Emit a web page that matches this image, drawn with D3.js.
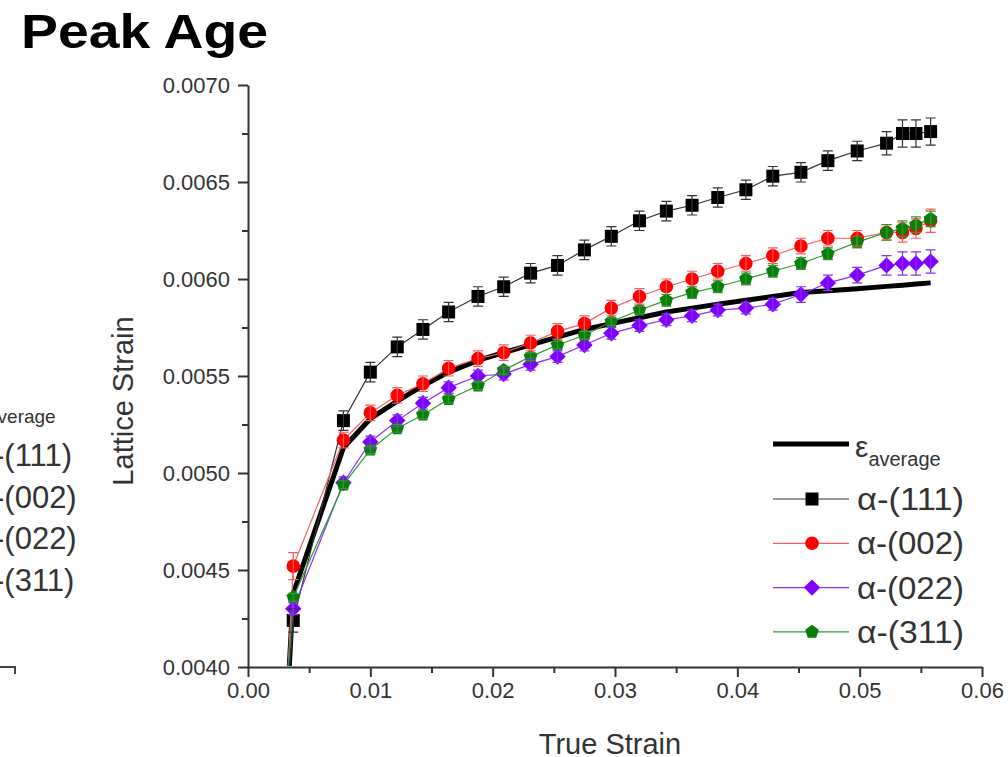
<!DOCTYPE html>
<html><head><meta charset="utf-8">
<script src="https://cdn.jsdelivr.net/npm/d3@7"></script>
<style>body{margin:0;background:#fff;}svg{display:block;font-family:"Liberation Sans",Arial,sans-serif;}</style>
</head><body>
<svg id="chart" width="1008" height="757"></svg>
<script>
// ---------- data ----------
const strain = [0.0032, 0.0037, 0.0078, 0.0100, 0.0122, 0.0143, 0.0164, 0.0188, 0.0209, 0.0231, 0.0253, 0.0275, 0.0297, 0.0320, 0.0342, 0.0363, 0.0384, 0.0407, 0.0429, 0.0452, 0.0474, 0.0498, 0.0522, 0.0535, 0.0546, 0.0558];
const avgStrain = [0.0038, 0.00438, 0.00513, 0.00528, 0.00537, 0.00545, 0.00552, 0.00558, 0.00562, 0.00566, 0.00570, 0.00574, 0.00577, 0.00580, 0.00583, 0.00585, 0.00587, 0.00589, 0.00591, 0.00593, 0.00594, 0.00595, 0.005962, 0.005968, 0.005974, 0.00598];
const a111 = [0.00382, 0.00424, 0.00527, 0.00552, 0.00565, 0.00574, 0.00583, 0.00591, 0.00596, 0.00603, 0.00607, 0.00615, 0.00622, 0.00630, 0.00635, 0.00638, 0.00642, 0.00646, 0.00653, 0.00655, 0.00661, 0.00666, 0.00670, 0.00675, 0.00675, 0.00676];
const a002 = [0.00389, 0.00452, 0.00517, 0.00531, 0.00540, 0.00546, 0.00554, 0.00559, 0.00562, 0.00567, 0.00573, 0.00577, 0.00585, 0.00591, 0.00596, 0.00600, 0.00604, 0.00608, 0.00612, 0.00617, 0.00621, 0.00621, 0.00624, 0.00624, 0.00626, 0.00630];
const a022 = [0.00394, 0.00430, 0.00495, 0.00516, 0.00527, 0.00536, 0.00544, 0.00550, 0.00551, 0.00556, 0.00560, 0.00566, 0.00572, 0.00576, 0.00579, 0.00581, 0.00584, 0.00585, 0.00587, 0.00592, 0.00598, 0.00602, 0.00607, 0.00608, 0.00608, 0.00609];
const a311 = [0.00393, 0.00436, 0.00494, 0.00512, 0.00523, 0.00530, 0.00538, 0.00545, 0.00553, 0.00560, 0.00566, 0.00571, 0.00578, 0.00584, 0.00589, 0.00593, 0.00596, 0.00600, 0.00604, 0.00608, 0.00613, 0.00619, 0.00624, 0.00626, 0.00628, 0.00631];
const e111 = [0.00005, 0.00006, 0.00005, 0.00005, 0.00005, 0.00005, 0.00005, 0.00005, 0.00005, 0.00005, 0.00005, 0.00005, 0.00005, 0.00005, 0.00005, 0.00005, 0.00005, 0.00005, 0.00005, 0.00005, 0.00005, 0.00005, 0.00006, 0.00007, 0.00007, 0.00007];
const e002 = [0.00007, 0.00007, 0.00004, 0.00004, 0.00004, 0.00004, 0.00004, 0.00004, 0.00004, 0.00004, 0.00004, 0.00004, 0.00004, 0.00004, 0.00004, 0.00004, 0.00004, 0.00004, 0.00004, 0.00004, 0.00004, 0.00004, 0.00004, 0.00005, 0.00005, 0.00006];
const e022 = [0.00003, 0.00003, 0.00003, 0.00003, 0.00003, 0.00003, 0.00003, 0.00003, 0.00003, 0.00003, 0.00003, 0.00003, 0.00003, 0.00003, 0.00003, 0.00003, 0.00003, 0.00003, 0.00003, 0.00004, 0.00004, 0.00004, 0.00005, 0.00006, 0.00006, 0.00006];
const e311 = [0.00002, 0.00002, 0.00002, 0.00002, 0.00002, 0.00002, 0.00002, 0.00002, 0.00002, 0.00002, 0.00002, 0.00002, 0.00002, 0.00002, 0.00003, 0.00003, 0.00003, 0.00003, 0.00003, 0.00003, 0.00003, 0.00003, 0.00004, 0.00004, 0.00004, 0.00004];
const seriesNames = ["α-(111)", "α-(002)", "α-(022)", "α-(311)"];
const xTicks = [0.00, 0.01, 0.02, 0.03, 0.04, 0.05, 0.06];
const xMinor = [0.005, 0.015, 0.025, 0.035, 0.045, 0.055];
const yTicks = [0.0040, 0.0045, 0.0050, 0.0055, 0.0060, 0.0065, 0.0070];
const yMinor = [0.00425, 0.00475, 0.00525, 0.00575, 0.00625, 0.00675];
const leftFragment = ["-(111)", "-(002)", "-(022)", "-(311)"];

// ---------- chart ----------
const svg = d3.select("#chart");
const x = d3.scaleLinear().domain([0, 0.06]).range([248, 982]);
const y = d3.scaleLinear().domain([0.0040, 0.0070]).range([667, 85]);
const axisColor = "#333";

// title
svg.append("text").attr("x", 21).attr("y", 48).attr("font-size", 48).attr("font-weight", "bold")
  .attr("textLength", 247).attr("lengthAdjust", "spacingAndGlyphs").attr("fill", "#000").text("Peak Age");

// left-neighbour fragment
svg.append("text").attr("x", -13).attr("y", 423).attr("font-size", 19).attr("fill", "#333").text("average");
leftFragment.forEach((t, i) => {
  svg.append("text").attr("x", -6).attr("y", [466, 508, 549, 591][i]).attr("font-size", 31).attr("fill", "#333").text(t);
});
svg.append("path").attr("d", "M0,667H15V674").attr("fill", "none").attr("stroke", "#444").attr("stroke-width", 2);

// axes
svg.append("g").attr("transform", "translate(0,667)")
  .call(d3.axisBottom(x).tickValues(xTicks).tickSize(10).tickSizeOuter(0).tickPadding(5).tickFormat(d3.format(".2f")));
svg.append("g").attr("transform", "translate(0,667)")
  .call(d3.axisBottom(x).tickValues(xMinor).tickSize(6).tickFormat("")).select(".domain").remove();
svg.append("g").attr("transform", "translate(248,0)")
  .call(d3.axisLeft(y).tickValues(yTicks).tickSize(10).tickSizeOuter(0).tickPadding(8).tickFormat(d3.format(".4f")));
svg.append("g").attr("transform", "translate(248,0)")
  .call(d3.axisLeft(y).tickValues(yMinor).tickSize(6).tickFormat("")).select(".domain").remove();
svg.selectAll(".domain").attr("stroke", axisColor).attr("stroke-width", 2);
svg.selectAll(".tick line").attr("stroke", axisColor).attr("stroke-width", 2);
svg.selectAll(".tick text").attr("font-size", 22).attr("fill", "#333").attr("font-family", "Liberation Sans, Arial, sans-serif");

svg.append("text").attr("x", 610).attr("y", 754).attr("text-anchor", "middle").attr("font-size", 29).attr("fill", "#333").text("True Strain");
svg.append("text").attr("transform", "translate(133,401) rotate(-90)").attr("text-anchor", "middle").attr("font-size", 29).attr("fill", "#333").text("Lattice Strain");

// clip
svg.append("clipPath").attr("id", "clip").append("rect").attr("x", 248).attr("y", 60).attr("width", 760).attr("height", 606);
const plot = svg.append("g").attr("clip-path", "url(#clip)");

const series = [
  {vals: a111, err: e111, line: "#333", fill: "#000", sym: "square", size: 6.5},
  {vals: a002, err: e002, line: "#ff5a5a", fill: "#ff0000", sym: "circle", size: 6.8},
  {vals: a022, err: e022, line: "#8a2cff", fill: "#7f00ff", sym: "diamond", size: 8.2},
  {vals: a311, err: e311, line: "#2f9a2f", fill: "#0a7d0a", sym: "pentagon", size: 7.2}
];

function polygon(n, r, rot) {
  const pts = d3.range(n).map(i => {
    const a = rot + i * 2 * Math.PI / n;
    return [r * Math.cos(a), r * Math.sin(a)];
  });
  return "M" + pts.map(p => p.map(v => v.toFixed(2)).join(",")).join("L") + "Z";
}
function symPath(s) {
  const r = s.size;
  if (s.sym === "square") return `M${-r},${-r}H${r}V${r}H${-r}Z`;
  if (s.sym === "circle") return d3.symbol(d3.symbolCircle, Math.PI * r * r)();
  if (s.sym === "diamond") return polygon(4, r, -Math.PI / 2);
  return polygon(5, r, -Math.PI / 2);
}

// average curve (under markers)
const lineGen = d3.line().x((d, i) => x(strain[i])).y(d => y(d));
plot.append("path").attr("d", lineGen(avgStrain))
  .attr("fill", "none").attr("stroke", "#000").attr("stroke-width", 5).attr("stroke-linejoin", "round");

series.forEach(s => {
  plot.append("path").attr("d", lineGen(s.vals)).attr("fill", "none").attr("stroke", s.line).attr("stroke-width", 1.2);
  plot.selectAll(null).data(s.vals).enter().append("path")
    .attr("d", symPath(s))
    .attr("transform", (d, i) => `translate(${x(strain[i])},${y(d)})`)
    .attr("fill", s.fill);
});
// error bars on top
series.forEach(s => {
  const g = plot.append("g").attr("stroke", s.line).attr("stroke-width", 1.2).attr("fill", "none");
  s.vals.forEach((v, i) => {
    const cx = x(strain[i]), y1 = y(v + s.err[i]), y2 = y(v - s.err[i]);
    g.append("path").attr("d", `M${cx},${y1}V${y2}M${cx - 5},${y1}H${cx + 5}M${cx - 5},${y2}H${cx + 5}`);
  });
});

// legend
const lg = svg.append("g");
lg.append("line").attr("x1", 773).attr("x2", 849).attr("y1", 444).attr("y2", 444).attr("stroke", "#000").attr("stroke-width", 5);
const eps = lg.append("text").attr("x", 855).attr("y", 457).attr("font-size", 30).attr("fill", "#333");
eps.append("tspan").text("ε");
eps.append("tspan").attr("font-size", 20).attr("dy", 9).text("average");
series.forEach((s, i) => {
  const ly = 499 + i * 44.3;
  lg.append("line").attr("x1", 773).attr("x2", 849).attr("y1", ly).attr("y2", ly).attr("stroke", s.line).attr("stroke-width", 1.2);
  lg.append("path").attr("d", symPath(s)).attr("transform", `translate(812,${ly})`).attr("fill", s.fill);
  lg.append("text").attr("x", 857).attr("y", ly + 11).attr("font-size", 31).attr("textLength", 107)
    .attr("lengthAdjust", "spacingAndGlyphs").attr("fill", "#333").text(seriesNames[i]);
});
</script>
</body></html>
